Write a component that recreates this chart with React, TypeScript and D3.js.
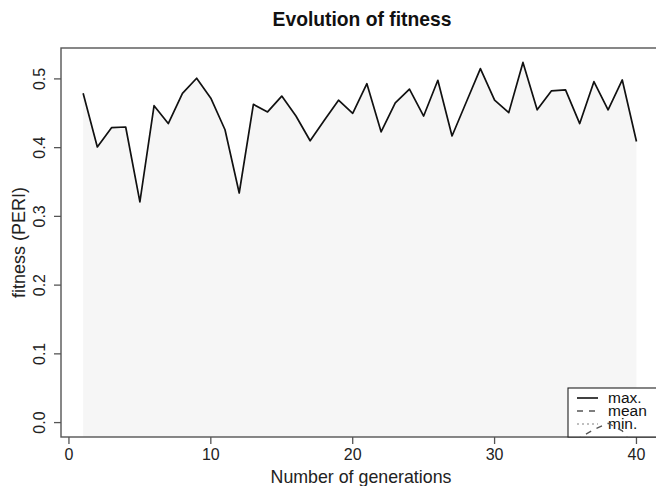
import React from "react";
import * as d3 from "d3";

const generations = d3.range(1, 41);
const maxFitness = [
  0.479, 0.401, 0.429, 0.43, 0.321, 0.461, 0.435, 0.479, 0.501, 0.472,
  0.426, 0.334, 0.463, 0.452, 0.475, 0.446, 0.41, 0.44, 0.469, 0.45,
  0.493, 0.423, 0.465, 0.485, 0.446, 0.498, 0.417, 0.466, 0.515, 0.469,
  0.451, 0.524, 0.455, 0.4825, 0.484, 0.435, 0.496, 0.455, 0.4985, 0.409,
];
// only the tail of the mean series reaches into the visible range
const meanGenerations = [35, 36, 37, 38, 39, 40];
const meanFitness = [-0.035, -0.022, -0.01, -0.001, -0.012, -0.04];

const xTicks = [0, 10, 20, 30, 40];
const yTicks = [0.0, 0.1, 0.2, 0.3, 0.4, 0.5];
const legendLabels = ["max.", "mean", "min."];

const W = 656;
const H = 486;
const FONT = "'Liberation Sans', Arial, Helvetica, sans-serif";

export default function App() {
  const plot = { left: 61, top: 48, bottom: 437, right: 658.6 };
  const xExt = d3.extent(generations) as [number, number];
  const xPad = (xExt[1] - xExt[0]) * 0.04;
  const yMax = d3.max(maxFitness) as number;
  const yPad = (yMax - 0) * 0.04;
  const x = d3.scaleLinear().domain([xExt[0] - xPad, xExt[1] + xPad]).range([plot.left, plot.right]);
  const y = d3.scaleLinear().domain([0 - yPad, yMax + yPad]).range([plot.bottom, plot.top]);

  const pts = generations.map((g, i) => [g, maxFitness[i]] as [number, number]);
  const line = d3.line<[number, number]>().x((d) => x(d[0])).y((d) => y(d[1]));
  const area = d3
    .area<[number, number]>()
    .x((d) => x(d[0]))
    .y0(plot.bottom + 5)
    .y1((d) => y(d[1]));
  const meanPts = meanGenerations.map((g, i) => [g, meanFitness[i]] as [number, number]);

  const axisColor = "#555";
  const legX = 568;
  const legTop = 388;
  const rowY = [398, 411, 424];

  return (
    <svg width={W} height={H} style={{ position: "absolute", left: 0, top: 0, background: "#fff" }} fontFamily={FONT}>
      <defs>
        <clipPath id="plotclip">
          <rect x={plot.left} y={plot.top} width={plot.right - plot.left} height={plot.bottom - plot.top} />
        </clipPath>
      </defs>
      <text x={362} y={26} textAnchor="middle" fontWeight="bold" fontSize={19.3} fill="#111">
        Evolution of fitness
      </text>
      <g clipPath="url(#plotclip)">
        <path d={area(pts) || ""} fill="#f6f6f6" />
        <path d={line(pts) || ""} fill="none" stroke="#111" strokeWidth={1.7} strokeLinejoin="round" />
      </g>
      {/* box */}
      <rect
        x={plot.left}
        y={plot.top}
        width={plot.right - plot.left}
        height={plot.bottom - plot.top}
        fill="none"
        stroke={axisColor}
        strokeWidth={1.4}
      />
      {/* x axis */}
      {xTicks.map((t) => (
        <g key={"x" + t}>
          <line x1={x(t)} x2={x(t)} y1={plot.bottom} y2={plot.bottom + 7} stroke={axisColor} strokeWidth={1.3} />
          <text x={x(t)} y={460} textAnchor="middle" fontSize={16} fill="#222">
            {t}
          </text>
        </g>
      ))}
      <text x={361} y={483} textAnchor="middle" fontSize={17.8} fill="#222">
        Number of generations
      </text>
      {/* y axis */}
      {yTicks.map((t) => (
        <g key={"y" + t}>
          <line x1={plot.left - 7} x2={plot.left} y1={y(t)} y2={y(t)} stroke={axisColor} strokeWidth={1.3} />
          <text
            transform={`translate(45,${y(t)}) rotate(-90)`}
            textAnchor="middle"
            fontSize={16}
            fill="#222"
          >
            {t.toFixed(1)}
          </text>
        </g>
      ))}
      <text
        transform={`translate(25,${(plot.top + plot.bottom) / 2}) rotate(-90)`}
        textAnchor="middle"
        fontSize={18}
        fill="#222"
      >
        fitness (PERI)
      </text>
      {/* legend */}
      <rect x={legX} y={legTop} width={W} height={plot.bottom - legTop} fill="#fff" stroke="#222" strokeWidth={1.1} />
      <line x1={577} x2={598} y1={rowY[0]} y2={rowY[0]} stroke="#111" strokeWidth={1.6} />
      <line x1={577} x2={598} y1={rowY[1]} y2={rowY[1]} stroke="#555" strokeWidth={1.3} strokeDasharray="6,6" />
      <line x1={577} x2={598} y1={rowY[2]} y2={rowY[2]} stroke="#aaa" strokeWidth={1.3} strokeDasharray="2,3" />
      {legendLabels.map((l, i) => (
        <text key={l} x={608} y={rowY[i] + 4.5} fontSize={15.5} fill="#111">
          {l}
        </text>
      ))}
      <g clipPath="url(#plotclip)">
        <path d={line(meanPts) || ""} fill="none" stroke="#555" strokeWidth={1.3} strokeDasharray="6,6" />
      </g>
    </svg>
  );
}
